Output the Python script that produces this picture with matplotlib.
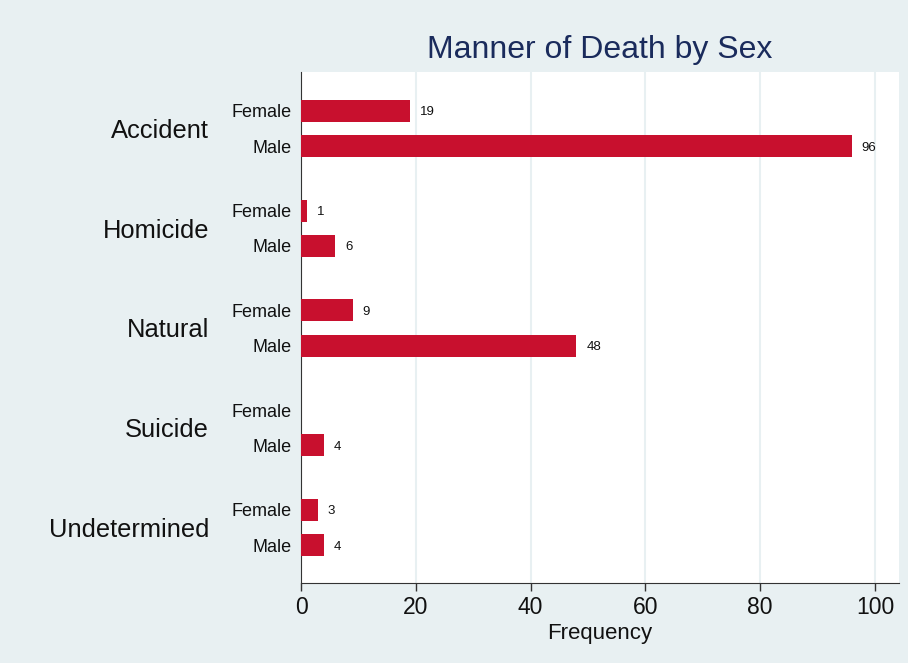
import matplotlib
matplotlib.use("Agg")
import matplotlib.pyplot as plt
from matplotlib import font_manager

categories = ["Accident", "Homicide", "Natural", "Suicide", "Undetermined"]
sexes = ["Female", "Male"]
female = [19, 1, 9, 0, 3]
male = [96, 6, 48, 4, 4]
xticks = [0, 20, 40, 60, 80, 100]

names = {f.name for f in font_manager.fontManager.ttflist}
base = "Liberation Sans" if "Liberation Sans" in names else "DejaVu Sans"
narrow = "Liberation Sans Narrow" if "Liberation Sans Narrow" in names else base

bg = "#e8f0f2"
bar_color = "#c8102e"

fig = plt.figure(figsize=(9.08, 6.63), dpi=100, facecolor=bg)
ax = fig.add_axes([301/908, 1-583/663, (899-301)/908, (583-72)/663])
ax.set_facecolor("white")

offset = 0.352
height = 0.22
ypos_f = [i for i in range(len(categories))]
ypos_m = [i + offset for i in range(len(categories))]

ax.barh(ypos_f, female, height=height, color=bar_color, zorder=3)
ax.barh(ypos_m, male, height=height, color=bar_color, zorder=3)

for y, v in zip(ypos_f + ypos_m, female + male):
    if v > 0:
        ax.annotate(str(v), (v, y), xytext=(7, 0), textcoords="offset points",
                    ha="left", va="center_baseline", fontsize=9.5, family=base,
                    color="#111111")

ax.set_xlim(0, 104.2)
ax.set_ylim(len(categories) - 1 + offset + 0.38, -0.39)

ax.set_xticks(xticks)
ax.set_xticklabels([str(t) for t in xticks], fontsize=16.5, family=narrow, color="#111111")
ax.tick_params(axis="x", length=6, width=1, color="#333333", pad=3)
ax.set_yticks(ypos_f + ypos_m)
ax.set_yticklabels([sexes[0]] * len(categories) + [sexes[1]] * len(categories),
                   fontsize=13, family=base, color="#111111")
ax.tick_params(axis="y", length=0, pad=6.5)

for i, c in enumerate(categories):
    ax.text(-92 / (598 / 104.2), i + offset / 2, c, ha="right", va="center_baseline",
            fontsize=18.4, family=base, color="#111111")

ax.grid(axis="x", color=bg, linewidth=1.5, zorder=0)
ax.set_axisbelow(True)
for s in ["top", "right"]:
    ax.spines[s].set_visible(False)
ax.spines["left"].set_color("#333333")
ax.spines["bottom"].set_color("#333333")

ax.set_xlabel("Frequency", fontsize=16, family=narrow, color="#111111", labelpad=3)
ax.set_title("Manner of Death by Sex", fontsize=23, family=base, color="#1a2b5c", pad=10)

fig.savefig("out.png", dpi=100, facecolor=bg)
